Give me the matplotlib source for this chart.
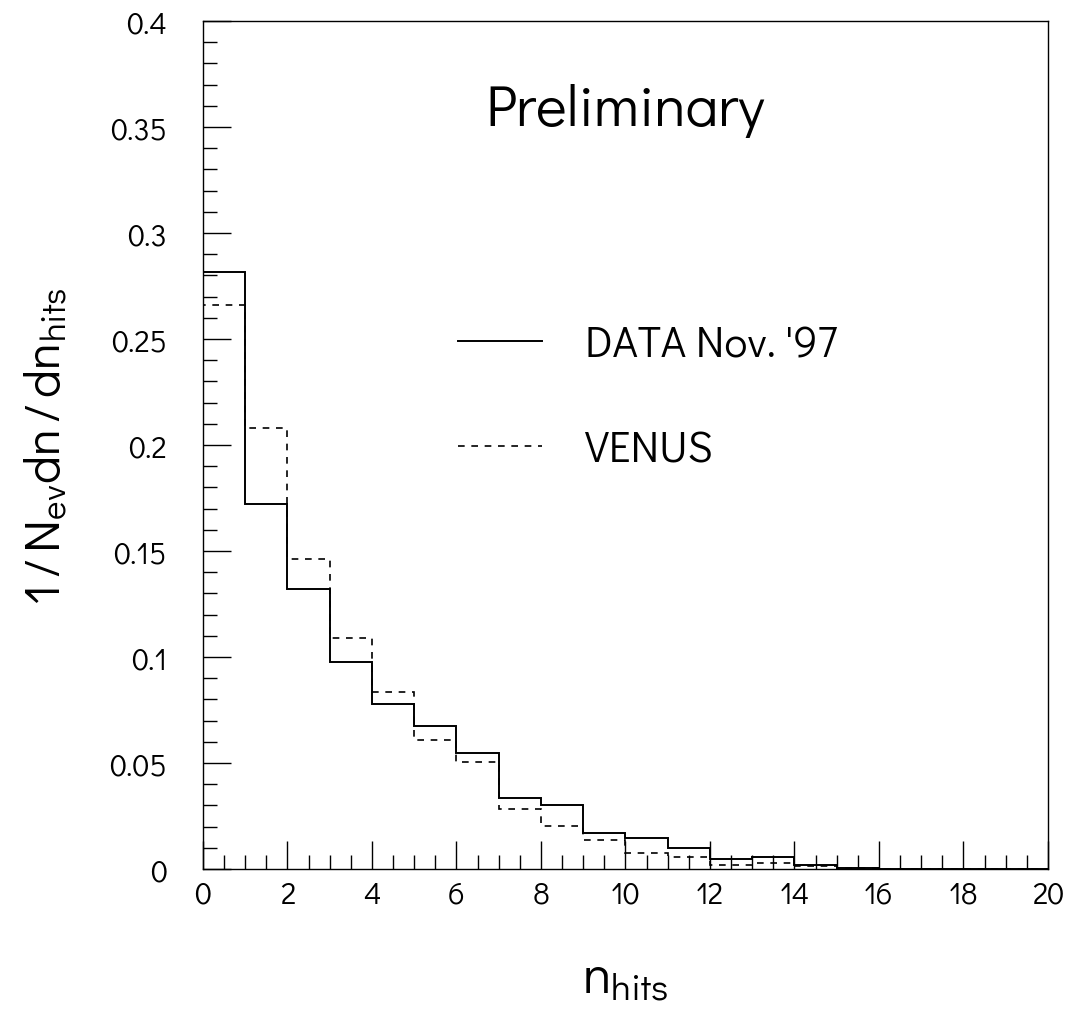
import matplotlib
matplotlib.use("Agg")
import matplotlib.pyplot as plt
from matplotlib.ticker import MultipleLocator
from matplotlib import font_manager

bin_edges = list(range(0, 21))
data_nov97 = [0.2818, 0.172, 0.132, 0.0975, 0.078, 0.0676, 0.0546, 0.0333, 0.0302, 0.0168,
              0.0148, 0.0101, 0.0046, 0.0055, 0.0020, 0.0005, 0.0, 0.0, 0.0, 0.0]
venus = [0.2659, 0.208, 0.146, 0.109, 0.0833, 0.061, 0.0503, 0.0283, 0.0201, 0.0138,
         0.0074, 0.0058, 0.0019, 0.0027, 0.0014, 0.0003, 0.0, 0.0, 0.0, 0.0]
x_ticks = [0, 2, 4, 6, 8, 10, 12, 14, 16, 18, 20]
y_ticks = [0, 0.05, 0.1, 0.15, 0.2, 0.25, 0.3, 0.35, 0.4]
y_tick_labels = ["0", "0.05", "0.1", "0.15", "0.2", "0.25", "0.3", "0.35", "0.4"]

installed = {f.name for f in font_manager.fontManager.ttflist}
fam = next((f for f in ['Didact Gothic', 'Questrial', 'Roboto'] if f in installed), 'DejaVu Sans')
weight = 300 if fam == 'Roboto' else 400

plt.rcParams['font.family'] = [fam, 'DejaVu Sans']
plt.rcParams['font.weight'] = weight
plt.rcParams['mathtext.fontset'] = 'custom'
plt.rcParams['mathtext.rm'] = fam + (':light' if weight == 300 else '')
plt.rcParams['mathtext.it'] = fam + (':light' if weight == 300 else '')

fig = plt.figure(figsize=(10.71, 10.12), dpi=100)
ax = fig.add_axes([0.1895, 0.1403, 0.789, 0.838])

ax.stairs(data_nov97, bin_edges, color='black', linewidth=1.4, label="DATA Nov. '97")
ax.stairs(venus, bin_edges, color='black', linewidth=1.2, linestyle=(0, (4, 4)), label='VENUS')

ax.set_xlim(0, 20)
ax.set_ylim(0, 0.4)
ax.set_xticks(x_ticks)
ax.set_xticklabels([str(t) for t in x_ticks])
ax.set_yticks(y_ticks)
ax.set_yticklabels(y_tick_labels)
ax.xaxis.set_minor_locator(MultipleLocator(0.5))
ax.yaxis.set_minor_locator(MultipleLocator(0.01))
ax.tick_params(which='both', direction='in', top=False, right=False, width=1.0, labelsize=22)
ax.tick_params(axis='x', which='both', pad=8)
ax.tick_params(axis='y', which='both', pad=26)
ax.tick_params(which='major', length=20)
ax.tick_params(which='minor', length=10)
for sp in ax.spines.values():
    sp.set_linewidth(1.0)

ax.set_xlabel(r'$\mathregular{n_{hits}}$', fontsize=38, labelpad=32)
ax.set_ylabel(r'$\mathregular{1\,/\,N_{ev}dn\,/\,dn_{hits}}$', fontsize=36, labelpad=28)

ax.text(0.5, 0.895, 'Preliminary', transform=ax.transAxes, fontsize=42, ha='center', va='center')

leg = ax.legend(loc='upper left', bbox_to_anchor=(0.302, 0.642), frameon=False, fontsize=31,
                handlelength=1.95, handletextpad=1.0, labelspacing=1.5, borderpad=0, borderaxespad=0)

fig.savefig('out.png', dpi=100)
